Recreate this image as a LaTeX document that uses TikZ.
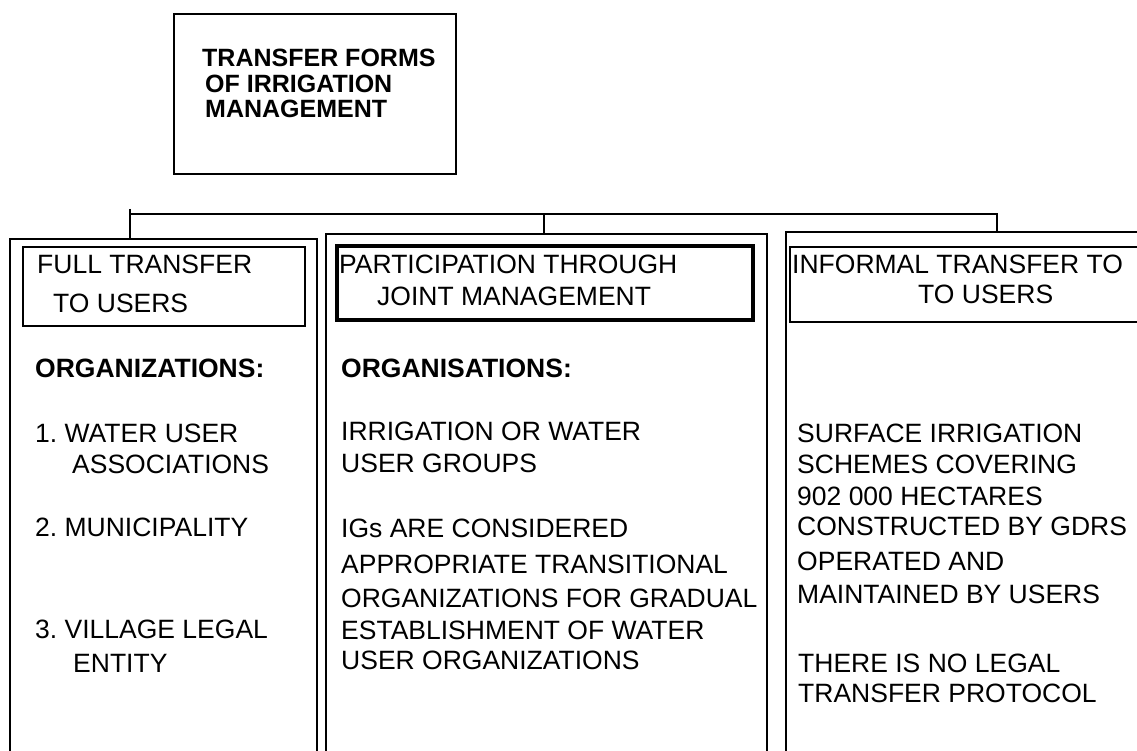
\documentclass[tikz,border=0pt]{standalone}
\usepackage{fontspec}
\setmainfont{Liberation Sans}
\frenchspacing
\begin{document}
\begin{tikzpicture}[x=1pt,y=-1pt,
  box/.style={draw=black,line width=1.4pt,inner sep=0pt,outer sep=0pt,anchor=north west},
  boldbox/.style={box,line width=3.2pt},
  link/.style={draw=black,line width=1.3pt},
  txt/.style={anchor=base west,inner sep=0pt,font=\fontsize{26.5}{30}\selectfont},
  bold/.style={txt,font=\fontsize{26.5}{30}\selectfont\bfseries},
  ttl/.style={anchor=base west,inner sep=0pt,font=\fontsize{25}{28}\selectfont\bfseries}]
\useasboundingbox (0,0) rectangle (1137,751);
\clip (0,0) rectangle (1137,751);

% title box
\node[box,minimum width=282pt,minimum height=160pt] (titlebox) at (174,14) {};
\node[ttl] (t1) at (202,67) {TRANSFER FORMS};
\node[ttl] (t2) at (205,93) {OF IRRIGATION};
\node[ttl] (t3) at (205,118) {MANAGEMENT};

% the three columns (running on past the lower edge)
\node[box,minimum width=307pt,minimum height=540pt] (col1) at (10,239) {};
\node[box,minimum width=441pt,minimum height=540pt] (col2) at (326,234) {};
\node[box,minimum width=370pt,minimum height=540pt] (col3) at (786,232) {};

% header boxes
\node[box,minimum width=282pt,minimum height=79pt] (h1) at (23,247) {};
\node[boldbox,minimum width=416pt,minimum height=74pt] (h2) at (337,246) {};
\node[box,minimum width=370pt,minimum height=75pt] (h3) at (790,247) {};

% bus line linking the columns
\coordinate (tick) at (130,209);
\coordinate (busL) at (130,214);
\coordinate (busM) at (544,214);
\coordinate (busR) at (997,214);
\draw[link] (tick) -- (tick |- col1.north);
\draw[link] (busL) -- (busR) -- (busR |- col3.north);
\draw[link] (busM) -- (busM |- col2.north);

% column 1
\node[txt] (a1) at (37,273) {FULL TRANSFER};
\node[txt] (a2) at (53,312) {TO USERS};
\node[bold] (a3) at (35,377) {ORGANIZATIONS:};
\node[txt] (a4) at (35,442) {1. WATER USER};
\node[txt] (a5) at (72,473) {ASSOCIATIONS};
\node[txt] (a6) at (35,536) {2. MUNICIPALITY};
\node[txt] (a7) at (35,638) {3. VILLAGE LEGAL};
\node[txt] (a8) at (73,672) {ENTITY};

% column 2
\node[txt] (b1) at (339,273) {PARTICIPATION THROUGH};
\node[txt] (b2) at (377,305) {JOINT MANAGEMENT};
\node[bold] (b3) at (341,377) {ORGANISATIONS:};
\node[txt] (b4) at (341,440) {IRRIGATION OR WATER};
\node[txt] (b5) at (341,472) {USER GROUPS};
\node[txt] (b6) at (341,537) {IGs ARE CONSIDERED};
\node[txt] (b7) at (341,573) {APPROPRIATE TRANSITIONAL};
\node[txt] (b8) at (341,607) {ORGANIZATIONS FOR GRADUAL};
\node[txt] (b9) at (341,639) {ESTABLISHMENT OF WATER};
\node[txt] (b10) at (341,669) {USER ORGANIZATIONS};

% column 3
\node[txt] (c1) at (792,273) {INFORMAL TRANSFER TO};
\node[txt] (c2) at (918,303) {TO USERS};
\node[txt] (c3) at (797,442) {SURFACE IRRIGATION};
\node[txt] (c4) at (797,473) {SCHEMES COVERING};
\node[txt] (c5) at (797,505) {902 000 HECTARES};
\node[txt] (c6) at (797,535) {CONSTRUCTED BY GDRS};
\node[txt] (c7) at (797,570) {OPERATED AND};
\node[txt] (c8) at (797,603) {MAINTAINED BY USERS};
\node[txt] (c9) at (798,672) {THERE IS NO LEGAL};
\node[txt] (c10) at (798,702) {TRANSFER PROTOCOL};
\end{tikzpicture}
\end{document}
